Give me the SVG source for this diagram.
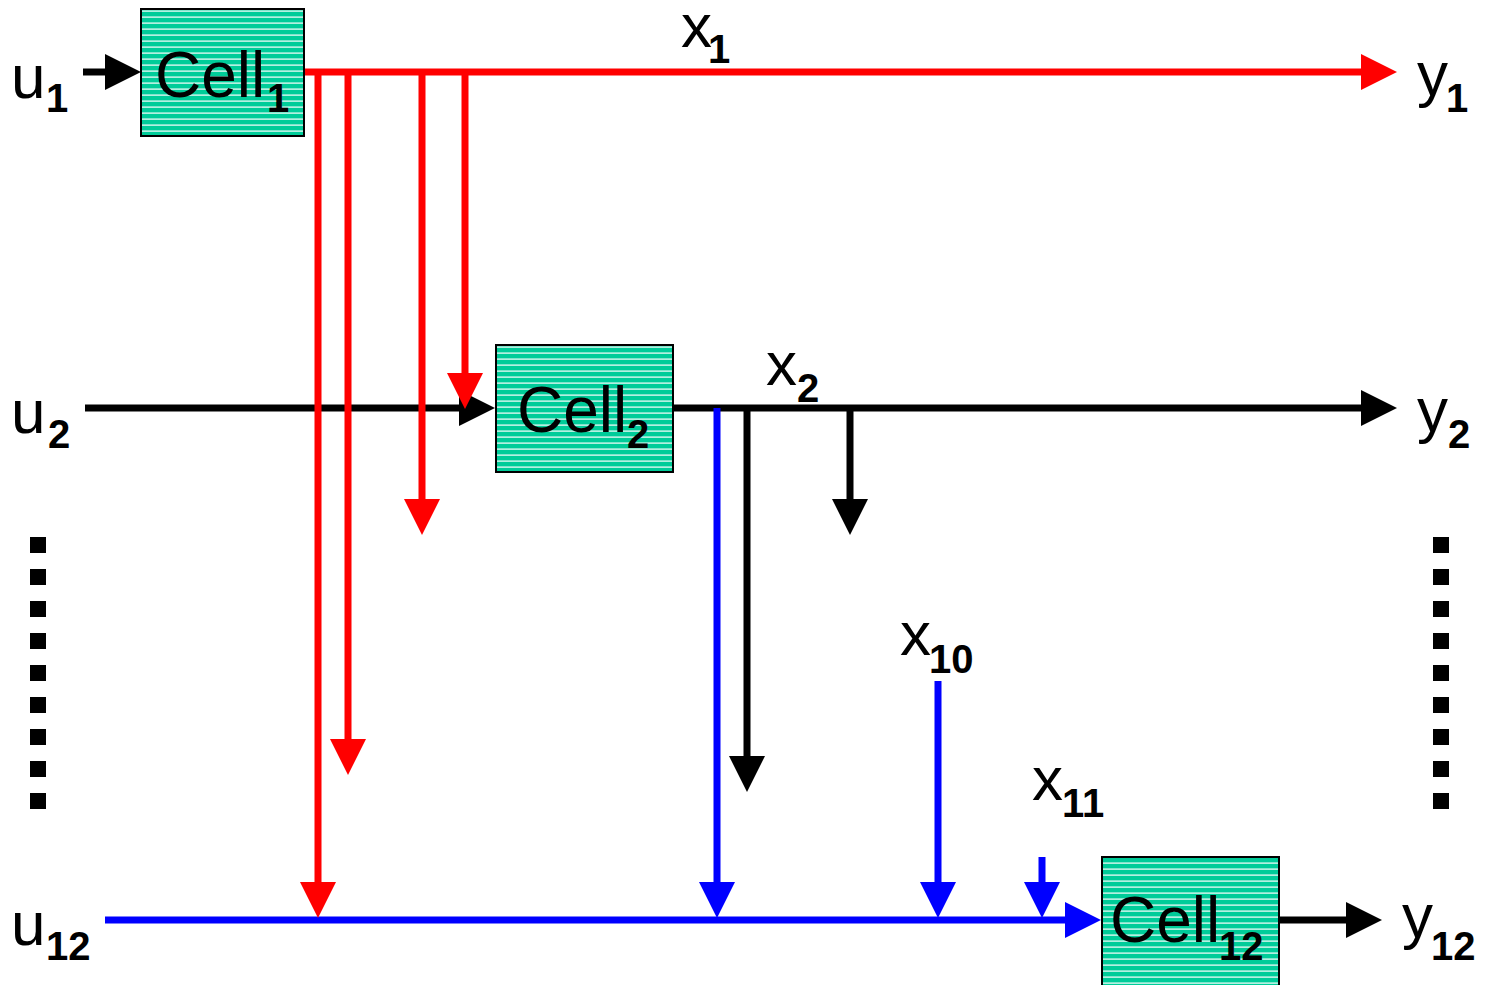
<svg xmlns="http://www.w3.org/2000/svg" width="1487" height="985" viewBox="0 0 1487 985">
<defs>
<pattern id="stripes" patternUnits="userSpaceOnUse" width="8" height="6">
<rect width="8" height="6" fill="#00CC99"/>
<rect y="4.5" width="8" height="1.2" fill="#ffffff"/>
</pattern>
<marker id="hr" markerUnits="userSpaceOnUse" viewBox="0 0 36 36" markerWidth="36" markerHeight="36" refX="2" refY="18" orient="auto"><path d="M0,0 L36,18 L0,36 z" fill="#ff0000"/></marker>
<marker id="hk" markerUnits="userSpaceOnUse" viewBox="0 0 36 36" markerWidth="36" markerHeight="36" refX="2" refY="18" orient="auto"><path d="M0,0 L36,18 L0,36 z" fill="#000000"/></marker>
<marker id="hb" markerUnits="userSpaceOnUse" viewBox="0 0 36 36" markerWidth="36" markerHeight="36" refX="2" refY="18" orient="auto"><path d="M0,0 L36,18 L0,36 z" fill="#0000ff"/></marker>
</defs>
<style>
.cell{fill:url(#stripes);stroke:#000;stroke-width:2}
.t{font-family:"Liberation Sans",Arial,sans-serif;font-size:62px;fill:#000}
.ct{font-family:"Liberation Sans",Arial,sans-serif;font-size:64px;fill:#000}
.s{font-family:"Liberation Sans",Arial,sans-serif;font-size:40px;font-weight:bold;fill:#000}
.r{stroke:#ff0000;stroke-width:7;fill:none;marker-end:url(#hr)}
.rn{stroke:#ff0000;stroke-width:7;fill:none}
.k{stroke:#000;stroke-width:7;fill:none;marker-end:url(#hk)}
.b{stroke:#0000ff;stroke-width:7;fill:none;marker-end:url(#hb)}
.dot{fill:#000}
</style>
<rect width="1487" height="985" fill="#fff"/>
<g id="connectors">
<line class="k" x1="83" y1="72" x2="107" y2="72"/>
<line class="k" x1="85" y1="408" x2="461" y2="408"/>
<line class="k" x1="673" y1="408" x2="1363" y2="408"/>
<line class="k" x1="747" y1="408" x2="747" y2="758"/>
<line class="k" x1="850" y1="408" x2="850" y2="501"/>
<line class="k" x1="1279" y1="920" x2="1348" y2="920"/>
<line class="b" x1="105" y1="920" x2="1067" y2="920"/>
<line class="b" x1="717" y1="408" x2="717" y2="884"/>
<line class="b" x1="938" y1="681" x2="938" y2="884"/>
<line class="b" x1="1042" y1="857" x2="1042" y2="884"/>
<line class="r" x1="304" y1="72" x2="1363" y2="72"/>
<line class="r" x1="318" y1="72" x2="318" y2="884"/>
<line class="r" x1="348" y1="72" x2="348" y2="741"/>
<line class="r" x1="422" y1="72" x2="422" y2="501"/>
<line class="r" x1="465" y1="72" x2="465" y2="375"/>
</g>
<g id="cell1">
<rect class="cell" x="141" y="9" width="163" height="127"/>
<text class="ct" x="155" y="97">Cell</text><text class="s" x="267" y="112">1</text>
</g>
<g id="cell2">
<rect class="cell" x="496" y="345" width="177" height="127"/>
<text class="ct" x="517" y="432">Cell</text><text class="s" x="627" y="448">2</text>
</g>
<g id="cell12">
<rect class="cell" x="1102" y="857" width="177" height="132"/>
<text class="ct" x="1110" y="942">Cell</text><text class="s" x="1219" y="960">12</text>
</g>
<g id="labels">
<text class="t" x="11" y="98">u</text><text class="s" x="46" y="112">1</text>
<text class="t" x="11" y="433">u</text><text class="s" x="48" y="448">2</text>
<text class="t" x="11" y="945">u</text><text class="s" x="46" y="960">12</text>
<text class="t" x="1417" y="95">y</text><text class="s" x="1446" y="112">1</text>
<text class="t" x="1417" y="431">y</text><text class="s" x="1448" y="448">2</text>
<text class="t" x="1402" y="937">y</text><text class="s" x="1431" y="960">12</text>
<text class="t" x="681" y="47">x</text><text class="s" x="708" y="63">1</text>
<text class="t" x="766" y="385">x</text><text class="s" x="797" y="402">2</text>
<text class="t" x="900" y="655">x</text><text class="s" x="929" y="673">10</text>
<text class="t" x="1032" y="800">x</text><text class="s" x="1062" y="817">11</text>
</g>
<g id="ellipsis-left">
<rect class="dot" x="30" y="537" width="16" height="16"/>
<rect class="dot" x="30" y="569" width="16" height="16"/>
<rect class="dot" x="30" y="601" width="16" height="16"/>
<rect class="dot" x="30" y="633" width="16" height="16"/>
<rect class="dot" x="30" y="665" width="16" height="16"/>
<rect class="dot" x="30" y="697" width="16" height="16"/>
<rect class="dot" x="30" y="729" width="16" height="16"/>
<rect class="dot" x="30" y="761" width="16" height="16"/>
<rect class="dot" x="30" y="793" width="16" height="16"/>
</g>
<g id="ellipsis-right">
<rect class="dot" x="1433" y="537" width="16" height="16"/>
<rect class="dot" x="1433" y="569" width="16" height="16"/>
<rect class="dot" x="1433" y="601" width="16" height="16"/>
<rect class="dot" x="1433" y="633" width="16" height="16"/>
<rect class="dot" x="1433" y="665" width="16" height="16"/>
<rect class="dot" x="1433" y="697" width="16" height="16"/>
<rect class="dot" x="1433" y="729" width="16" height="16"/>
<rect class="dot" x="1433" y="761" width="16" height="16"/>
<rect class="dot" x="1433" y="793" width="16" height="16"/>
</g>
</svg>
